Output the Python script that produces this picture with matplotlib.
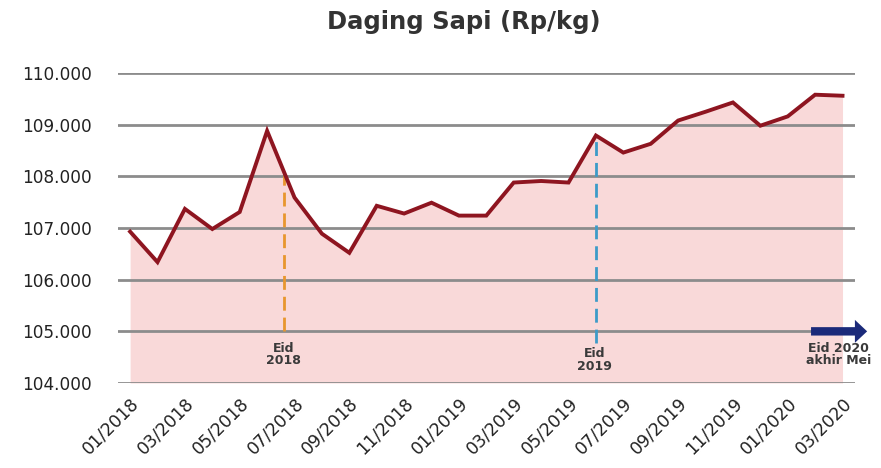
import numpy as np
from matplotlib import pyplot as plt
from matplotlib.ticker import FuncFormatter

# monthly beef price, 01/2018 .. 03/2020
months = [f"{m:02d}/{y}" for y in (2018, 2019, 2020) for m in range(1, 13)][:27]
price = [106930, 106340, 107370, 106980, 107310, 108880, 107590, 106890, 106520,
         107430, 107280, 107490, 107240, 107240, 107880, 107910, 107880, 108790,
         108460, 108630, 109080, 109250, 109430, 108980, 109160, 109580, 109560]

eid_2018_x = 5.6
eid_2019_x = 17.0

fig = plt.figure(figsize=(8.81, 4.68), dpi=100)
ax = fig.add_axes([0.134, 0.1816, 0.836, 0.6624])

x = np.arange(len(price))
ax.set_xlim(-0.44, 26.44)
ax.set_ylim(104000, 110000)

ax.fill_between(x, 104000, price, color="#f9d9d9", lw=0, zorder=1)
for v in range(104000, 110001, 1000):
    ax.axhline(v, color="#8c8c8c", lw=2.0, zorder=2)
ax.plot(x, price, color="#8e1520", lw=2.8, solid_joinstyle="miter", zorder=5)

# eid markers
y18 = np.interp(eid_2018_x, x, price)
ax.plot([eid_2018_x, eid_2018_x], [105000, y18 - 80], ls=(0, (5, 2.5)),
        color="#e8962e", lw=2, zorder=4)
y19 = np.interp(eid_2019_x, x, price)
ax.plot([eid_2019_x, eid_2019_x], [104780, y19 - 80], ls=(0, (5, 2.5)),
        color="#3d9bc8", lw=2, zorder=4)

lab = dict(ha="center", va="center", fontsize=9, fontweight="bold",
           color="#3a3a3a", linespacing=0.95, zorder=6)
ax.text(eid_2018_x, 104550, "Eid\n2018", **lab)
ax.text(eid_2019_x - 0.05, 104450, "Eid\n2019", **lab)
ax.text(25.85, 104550, "Eid 2020\nakhir Mei", clip_on=False, **lab)
ax.annotate("", xy=(27.0, 105000), xytext=(24.75, 105000),
            arrowprops=dict(arrowstyle="simple,head_width=1.5,head_length=0.8,tail_width=0.55",
                            color="#1b2a7a", lw=0, mutation_scale=11),
            annotation_clip=False, zorder=6)

ax.set_xticks(x[::2])
ax.set_xticklabels(months[::2], rotation=45, ha="right", rotation_mode="anchor",
                   fontsize=12.5, color="#222222")
ax.yaxis.set_major_formatter(FuncFormatter(lambda v, p: f"{int(v):,}".replace(",", ".")))
ax.set_yticks(range(104000, 110001, 1000))
ax.tick_params(axis="y", length=0, pad=19, labelsize=12.2, labelcolor="#222222")
ax.tick_params(axis="x", length=0, pad=8)
for s in ax.spines.values():
    s.set_visible(False)

fig.text(0.526, 0.953, "Daging Sapi (Rp/kg)", ha="center", va="center",
         fontsize=17.5, fontweight="bold", color="#333333")

fig.savefig("out.png", dpi=100)
